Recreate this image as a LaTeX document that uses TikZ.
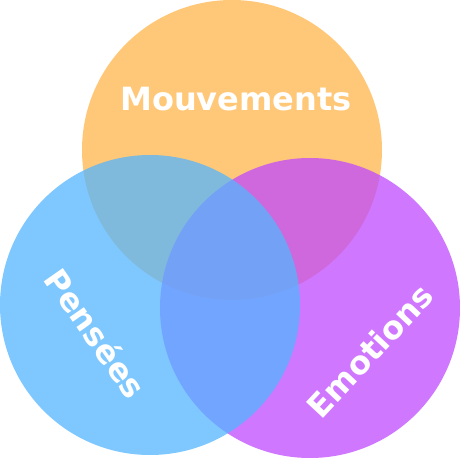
\documentclass[tikz,border=0pt]{standalone}
\usepackage{fontspec}
\setmainfont{DejaVu Sans}
\usepackage{tikz}

\definecolor{orangeset}{RGB}{255,181,75}
\definecolor{purpleset}{RGB}{192,73,255}
\definecolor{blueset}{RGB}{84,181,255}

\tikzset{
  setdisc/.style={fill=#1, fill opacity=0.75, draw=none},
  setlabel/.style={text=white, font=\fontsize{32}{36}\selectfont\bfseries, inner sep=0pt}
}

\begin{document}
\begin{tikzpicture}[x=1pt, y=1pt]
\useasboundingbox (0,0) rectangle (460,458);

% les trois ensembles
\fill[setdisc=orangeset] (232,308) circle (150);
\fill[setdisc=purpleset] (310,150) circle (150);
\fill[setdisc=blueset] (150,153) circle (150);

% etiquettes
\node[setlabel] (mouv) at (236,359) {Mouvements};
\node[setlabel, rotate=-55] (pens) at (96,125) {Pensées};
\node[setlabel, rotate=47] (emot) at (370,107) {Emotions};
\end{tikzpicture}
\end{document}
